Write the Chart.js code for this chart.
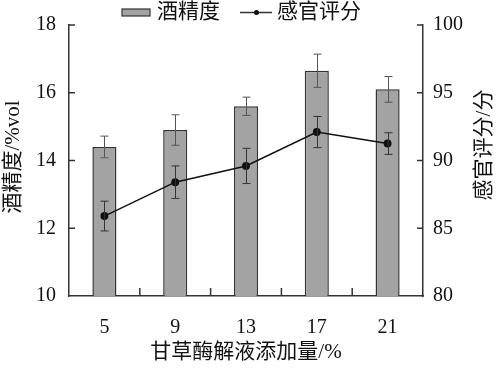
<!DOCTYPE html>
<html>
<head>
<meta charset="utf-8">
<script src="https://cdn.jsdelivr.net/npm/chart.js@4.4.0/dist/chart.umd.min.js"></script>
<style>
  html, body { margin: 0; padding: 0; background: #fff; }
  #wrap { width: 499px; height: 368px; }
</style>
</head>
<body>
<div id="wrap"><canvas id="barChart" width="499" height="368"></canvas></div>
<script>
// data
const categories = ['5', '9', '13', '17', '21'];
const alcohol = [14.4, 14.9, 15.6, 16.65, 16.1];
const alcoholErr = [0.32, 0.45, 0.27, 0.49, 0.38];
const score = [85.9, 88.4, 89.6, 92.1, 91.25];
const scoreErr = [1.1, 1.2, 1.3, 1.15, 0.8];
const leftTicks = [10, 12, 14, 16, 18];
const rightTicks = [80, 85, 90, 95, 100];

const serif = '"Liberation Serif", "Noto Sans CJK SC", serif';
const axisColor = '#333';

// error bars, drawn right after their own dataset
const errorBars = {
    id: 'errorBars',
    afterDatasetDraw: function (chart, args) {
        const ds = chart.data.datasets[args.index];
        if (!ds.errors) return;
        const meta = args.meta;
        const yScale = chart.scales[ds.yAxisID];
        const ctx = chart.ctx;
        ctx.save();
        ctx.strokeStyle = ds.errorColor;
        ctx.lineWidth = 1;
        meta.data.forEach(function (el, i) {
            const x = Math.round(el.x) + 0.5;
            const top = yScale.getPixelForValue(ds.data[i] + ds.errors[i]);
            const bot = yScale.getPixelForValue(ds.data[i] - ds.errors[i]);
            ctx.beginPath();
            ctx.moveTo(x, top); ctx.lineTo(x, bot);
            ctx.moveTo(x - 4, top); ctx.lineTo(x + 4, top);
            ctx.moveTo(x - 4, bot); ctx.lineTo(x + 4, bot);
            ctx.stroke();
        });
        ctx.restore();
    }
};

// inward tick marks, titles and legend
const decorations = {
    id: 'decorations',
    afterDraw: function (chart) {
        const ctx = chart.ctx;
        const xs = chart.scales.x, y = chart.scales.y, y1 = chart.scales.y1;
        const area = chart.chartArea;
        ctx.save();
        ctx.strokeStyle = axisColor;
        ctx.lineWidth = 1.5;
        ctx.beginPath();
        leftTicks.forEach(function (v) {
            if (v === leftTicks[0]) return;
            const p = y.getPixelForValue(v);
            ctx.moveTo(area.left, p); ctx.lineTo(area.left + 6, p);
        });
        rightTicks.forEach(function (v) {
            if (v === rightTicks[0]) return;
            const p = y1.getPixelForValue(v);
            ctx.moveTo(area.right, p); ctx.lineTo(area.right - 6, p);
        });
        for (let i = 0; i < categories.length - 1; i++) {
            const p = (xs.getPixelForValue(i) + xs.getPixelForValue(i + 1)) / 2;
            ctx.moveTo(p, area.bottom); ctx.lineTo(p, area.bottom - 8);
        }
        ctx.stroke();

        ctx.fillStyle = '#111';
        ctx.font = '21px ' + serif;
        ctx.textAlign = 'center';
        ctx.textBaseline = 'middle';
        ctx.fillText('甘草酶解液添加量/%', (area.left + area.right) / 2, 352);

        ctx.save();
        ctx.translate(13, 157);
        ctx.rotate(-Math.PI / 2);
        ctx.fillText('酒精度/%vol', 0, 0);
        ctx.restore();

        ctx.save();
        ctx.translate(484, 145);
        ctx.rotate(-Math.PI / 2);
        ctx.fillText('感官评分/分', 0, 0);
        ctx.restore();

        // legend
        ctx.fillStyle = '#a3a3a3';
        ctx.fillRect(122, 9, 28, 7);
        ctx.lineWidth = 1.2;
        ctx.strokeRect(122, 9, 28, 7);
        ctx.fillStyle = '#111';
        ctx.textAlign = 'left';
        ctx.fillText('酒精度', 157, 12);
        ctx.beginPath();
        ctx.lineWidth = 1.5;
        ctx.moveTo(240, 12.5); ctx.lineTo(272, 12.5);
        ctx.stroke();
        ctx.beginPath();
        ctx.arc(256.5, 12.5, 2.5, 0, Math.PI * 2);
        ctx.fill();
        ctx.fillText('感官评分', 277, 12);
        ctx.restore();
    }
};

const ctx2 = document.getElementById('barChart').getContext('2d');
new Chart(ctx2, {
    type: 'bar',
    data: {
        labels: categories,
        datasets: [
            {
                type: 'line',
                label: '感官评分',
                data: score,
                errors: scoreErr,
                errorColor: '#333',
                yAxisID: 'y1',
                borderColor: '#111',
                backgroundColor: '#111',
                borderWidth: 1.5,
                pointRadius: 3.2,
                pointBackgroundColor: '#111',
                tension: 0,
                order: 0
            },
            {
                label: '酒精度',
                data: alcohol,
                errors: alcoholErr,
                errorColor: '#555',
                yAxisID: 'y',
                backgroundColor: '#a3a3a3',
                borderColor: '#333',
                borderWidth: 1.5,
                categoryPercentage: 1,
                barPercentage: 0.34,
                order: 1
            }
        ]
    },
    options: {
        responsive: false,
        animation: false,
        layout: { padding: { top: 21, left: 0, right: 0, bottom: 0 } },
        plugins: { legend: { display: false }, tooltip: { enabled: false } },
        scales: {
            x: {
                offset: true,
                grid: { display: false, drawTicks: false },
                border: { display: true, color: axisColor, width: 1.5 },
                ticks: { color: '#111', font: { family: serif, size: 20 }, padding: 20 },
                afterFit: function (s) { s.height = 72; }
            },
            y: {
                position: 'left',
                min: 10, max: 18,
                afterBuildTicks: function (s) { s.ticks = leftTicks.map(function (v) { return { value: v }; }); },
                grid: { display: false, drawTicks: false },
                border: { display: true, color: axisColor, width: 1.5 },
                ticks: { color: '#111', font: { family: serif, size: 20 }, padding: 13 },
                afterFit: function (s) { s.width = 69; }
            },
            y1: {
                position: 'right',
                min: 80, max: 100,
                afterBuildTicks: function (s) { s.ticks = rightTicks.map(function (v) { return { value: v }; }); },
                grid: { display: false, drawTicks: false },
                border: { display: true, color: axisColor, width: 1.5 },
                ticks: { color: '#111', font: { family: serif, size: 20 }, padding: 10 },
                afterFit: function (s) { s.width = 76; }
            }
        }
    },
    plugins: [errorBars, decorations]
});
</script>
</body>
</html>
